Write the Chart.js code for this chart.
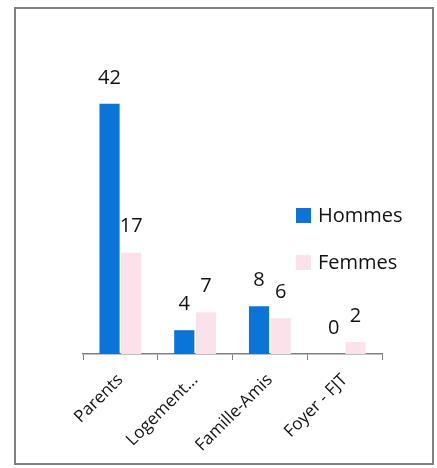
<!DOCTYPE html>
<html>
<head>
<meta charset="utf-8">
<script src="https://cdn.jsdelivr.net/npm/chart.js@4/dist/chart.umd.min.js"></script>
<style>
  html, body { margin: 0; padding: 0; background: #fff; }
  #wrap { position: relative; width: 437px; height: 468px; }
  #frame {
    position: absolute; left: 14px; top: 7px; width: 416px; height: 454px;
    border: 2px solid #808080; pointer-events: none;
  }
  canvas { position: absolute; left: 0; top: 0; }
</style>
</head>
<body>
<div id="wrap">
  <canvas id="chart" width="437" height="468"></canvas>
  <div id="frame"></div>
</div>
<script>
  const categories = ["Parents", "Logement...", "Famille-Amis", "Foyer - FJT"];
  const hommes = [42, 4, 8, 0];
  const femmes = [17, 7, 6, 2];
  const seriesNames = ["Hommes", "Femmes"];
  const colors = ["#0b74d9", "#fbe2ea"];

  const font = "'Open Sans', 'Liberation Sans', sans-serif";

  // valeurs au-dessus des barres
  const valueLabels = {
    id: 'valueLabels',
    afterDatasetsDraw(chart) {
      const ctx = chart.ctx;
      ctx.save();
      ctx.font = "20px " + font;
      ctx.fillStyle = "#111";
      ctx.textAlign = "center";
      ctx.textBaseline = "middle";
      chart.data.datasets.forEach((ds, i) => {
        chart.getDatasetMeta(i).data.forEach((bar, j) => {
          ctx.fillText(ds.data[j], bar.x, bar.y - 26);
        });
      });
      ctx.restore();
    }
  };

  // légende dessinée par-dessus la zone du graphique
  const sideLegend = {
    id: 'sideLegend',
    afterDraw(chart) {
      const ctx = chart.ctx;
      ctx.save();
      ctx.font = "20px " + font;
      ctx.textBaseline = "middle";
      chart.data.datasets.forEach((ds, i) => {
        const y = 216 + i * 47;
        ctx.fillStyle = ds.backgroundColor;
        ctx.fillRect(296, y - 8, 15, 15);
        ctx.fillStyle = "#111";
        ctx.fillText(ds.label, 318, y);
      });
      ctx.restore();
    }
  };

  new Chart(document.getElementById("chart"), {
    type: 'bar',
    data: {
      labels: categories,
      datasets: [
        { label: seriesNames[0], data: hommes, backgroundColor: colors[0] },
        { label: seriesNames[1], data: femmes, backgroundColor: colors[1] }
      ]
    },
    options: {
      responsive: false,
      animation: false,
      layout: { padding: { left: 83, right: 55, top: 86, bottom: 0 } },
      datasets: { bar: { categoryPercentage: 0.58, barPercentage: 0.93 } },
      plugins: {
        legend: { display: false },
        tooltip: { enabled: false }
      },
      scales: {
        x: {
          grid: {
            display: true, drawOnChartArea: false, drawTicks: true,
            tickLength: 6, color: "#808080", offset: true
          },
          border: { display: true, color: "#808080", width: 1.5 },
          ticks: {
            color: "#111", font: { size: 17, family: font },
            minRotation: 45, maxRotation: 45, padding: 10
          },
          afterFit(scale) { scale.height = 114; }
        },
        y: {
          display: false,
          min: 0, max: 45
        }
      }
    },
    plugins: [valueLabels, sideLegend]
  });
</script>
</body>
</html>
